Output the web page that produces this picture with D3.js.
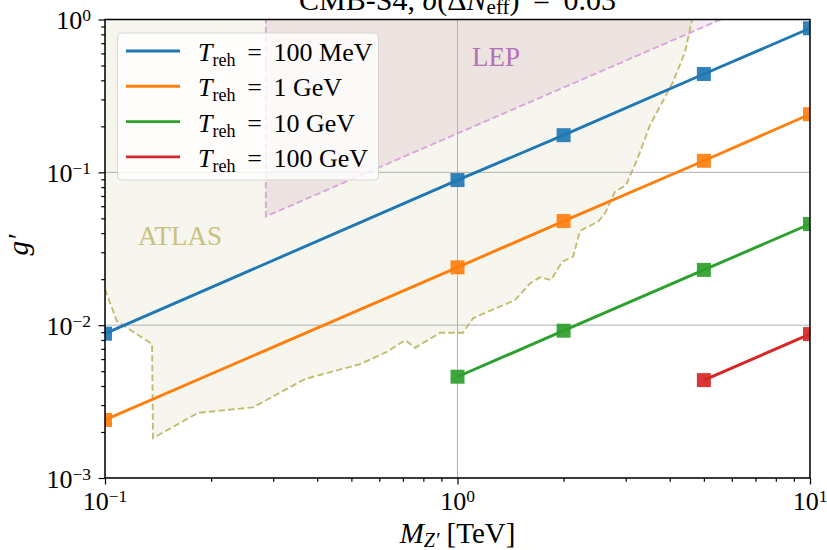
<!DOCTYPE html>
<html><head><meta charset="utf-8">
<script src="https://cdn.jsdelivr.net/npm/d3@7"></script>
<style>
body{margin:0;background:#fff}
svg{display:block}
text{font-family:"Liberation Serif","Times New Roman",serif;fill:#000}
</style>
</head><body>
<svg id="chart" width="827" height="550"></svg>
<script>
// ---------- data ----------
const seriesLabels = ["100 MeV", "1 GeV", "10 GeV", "100 GeV"];
const seriesColors = ["#1f77b4", "#ff7f0e", "#2ca02c", "#d62728"];
const mass100MeV = [0.1, 1, 2, 5, 10];
const g100MeV    = [0.0088, 0.089, 0.175, 0.44, 0.876];
const mass1GeV   = [0.1, 1, 2, 5, 10];
const g1GeV      = [0.0024, 0.0239, 0.048, 0.119, 0.24];
const mass10GeV  = [1, 2, 5, 10];
const g10GeV     = [0.0046, 0.0092, 0.023, 0.0459];
const mass100GeV = [5, 10];
const g100GeV    = [0.00437, 0.00874];

const atlasMass = [0.1, 0.108, 0.136, 0.1368, 0.1836, 0.263, 0.369, 0.529, 0.631, 0.71, 0.758, 0.892, 1.036,
  1.107, 1.158, 1.456, 1.606, 1.714, 1.842, 1.98, 2.127, 2.226, 2.504, 2.62, 2.798, 3.006, 3.229, 3.517,
  4.087, 4.42, 4.63, 4.7];
const atlasG = [0.01722, 0.01063, 0.00752, 0.001824, 0.00267, 0.0029, 0.00444, 0.00556, 0.0067, 0.00799,
  0.00711, 0.00892, 0.00892, 0.01108, 0.01164, 0.0146, 0.01877, 0.02055, 0.01973, 0.026, 0.02803, 0.04147,
  0.04749, 0.0539, 0.0746, 0.0826, 0.1203, 0.204, 0.39, 0.6127, 1.0, 1.2];

const lepMass = [0.286, 0.286, 6.7];
const lepG    = [1.2, 0.0515, 1.2];

const xMajor = [0.1, 1, 10];
const xMajorExp = ["−1", "0", "1"];
const yMajor = [0.001, 0.01, 0.1, 1];
const yMajorExp = ["−3", "−2", "−1", "0"];
const titleParts = ["CMB-S4, ", "σ", "(Δ", "N", "eff", ") = 0.03"];

// ---------- layout ----------
const svg = d3.select("#chart");
const L = 105, R = 810, T = 19.5, B = 478;
const x = d3.scaleLog().domain([0.1, 10]).range([L, R]);
const y = d3.scaleLog().domain([0.001, 1]).range([B, T]);

svg.append("defs").append("clipPath").attr("id", "clip")
  .append("rect").attr("x", L).attr("y", T).attr("width", R - L).attr("height", B - T);

const plot = svg.append("g").attr("clip-path", "url(#clip)");

// ATLAS region
const atlasPts = atlasMass.map((m, i) => [m, atlasG[i]]);
const polyAtlas = [[0.1, 1.2], ...atlasPts];
plot.append("path")
  .attr("d", d3.line().x(d => x(d[0])).y(d => y(d[1]))(polyAtlas) + "Z")
  .attr("fill", "#f7f6ee").attr("stroke", "none");

// LEP region
const lepPts = lepMass.map((m, i) => [m, lepG[i]]);
plot.append("path")
  .attr("d", d3.line().x(d => x(d[0])).y(d => y(d[1]))(lepPts) + "Z")
  .attr("fill", "#a04080").attr("fill-opacity", 0.1).attr("stroke", "none");

// ATLAS edge
plot.append("path")
  .attr("d", d3.line().x(d => x(d[0])).y(d => y(d[1]))(atlasPts))
  .attr("fill", "none").attr("stroke", "#c3bc6e").attr("stroke-width", 1.9)
  .attr("stroke-dasharray", "6.5,3.2");
// LEP edge
plot.append("path")
  .attr("d", d3.line().x(d => x(d[0])).y(d => y(d[1]))(lepPts))
  .attr("fill", "none").attr("stroke", "#d9a6d9").attr("stroke-width", 1.9)
  .attr("stroke-dasharray", "6.5,3.2");

// grid
const grid = plot.append("g");
grid.selectAll("line.gx").data(xMajor).join("line")
  .attr("x1", d => x(d)).attr("x2", d => x(d)).attr("y1", T).attr("y2", B)
  .attr("stroke", "#b0b0b0").attr("stroke-width", 1);
grid.selectAll("line.gy").data(yMajor).join("line")
  .attr("y1", d => y(d)).attr("y2", d => y(d)).attr("x1", L).attr("x2", R)
  .attr("stroke", "#b0b0b0").attr("stroke-width", 1);

// series
const series = [
  {m: mass100MeV, g: g100MeV},
  {m: mass1GeV, g: g1GeV},
  {m: mass10GeV, g: g10GeV},
  {m: mass100GeV, g: g100GeV}
];
series.forEach((s, k) => {
  const pts = s.m.map((m, i) => [m, s.g[i]]);
  plot.append("path")
    .attr("d", d3.line().x(d => x(d[0])).y(d => y(d[1]))(pts))
    .attr("fill", "none").attr("stroke", seriesColors[k]).attr("stroke-width", 2.9);
  const ms = 14;
  plot.selectAll(null).data(pts).join("rect")
    .attr("x", d => x(d[0]) - ms / 2).attr("y", d => y(d[1]) - ms / 2)
    .attr("width", ms).attr("height", ms)
    .attr("fill", seriesColors[k]).attr("fill-opacity", 0.92);
});

// region labels
svg.append("text").attr("x", x(0.124)).attr("y", y(0.0334)).attr("font-size", 27)
  .style("fill", "#c9c17d").text("ATLAS");
svg.append("text").attr("x", x(1.099)).attr("y", y(0.499)).attr("font-size", 27)
  .style("fill", "#b670b6").text("LEP");

// axes
const xAxisMajor = d3.axisBottom(x).tickValues(xMajor).tickSize(6.5).tickFormat(() => "");
const xMinorVals = [];
[0.1, 1].forEach(d => { for (let k = 2; k <= 9; k++) xMinorVals.push(d * k); });
const xAxisMinor = d3.axisBottom(x).tickValues(xMinorVals).tickSize(3.8).tickFormat(() => "");
const yAxisMajor = d3.axisLeft(y).tickValues(yMajor).tickSize(6.5).tickFormat(() => "");
const yMinorVals = [];
[0.001, 0.01, 0.1].forEach(d => { for (let k = 2; k <= 9; k++) yMinorVals.push(d * k); });
const yAxisMinor = d3.axisLeft(y).tickValues(yMinorVals).tickSize(3.8).tickFormat(() => "");

function styleAxis(g) {
  g.select(".domain").remove();
  g.selectAll("line").attr("stroke", "#000").attr("stroke-width", 1.2);
}
svg.append("g").attr("transform", `translate(0,${B})`).call(xAxisMajor).call(styleAxis);
svg.append("g").attr("transform", `translate(0,${B})`).call(xAxisMinor).call(styleAxis);
svg.append("g").attr("transform", `translate(${L},0)`).call(yAxisMajor).call(styleAxis);
svg.append("g").attr("transform", `translate(${L},0)`).call(yAxisMinor).call(styleAxis);

// frame
svg.append("rect").attr("x", L).attr("y", T).attr("width", R - L).attr("height", B - T)
  .attr("fill", "none").attr("stroke", "#000").attr("stroke-width", 1.5);

// tick labels
xMajor.forEach((d, i) => {
  const t = svg.append("text").attr("x", x(d)).attr("y", 510).attr("text-anchor", "middle")
    .attr("font-size", 26);
  t.append("tspan").text("10");
  t.append("tspan").attr("font-size", 17.5).attr("dy", -8).text(xMajorExp[i]);
});
yMajor.forEach((d, i) => {
  const t = svg.append("text").attr("x", 91).attr("y", y(d) + 9.5).attr("text-anchor", "end")
    .attr("font-size", 26);
  t.append("tspan").text("10");
  t.append("tspan").attr("font-size", 17.5).attr("dy", -8).text(yMajorExp[i]);
});

// axis labels
const xl = svg.append("text").attr("x", (L + R) / 2).attr("y", 543).attr("text-anchor", "middle")
  .attr("font-size", 29);
xl.append("tspan").attr("font-style", "italic").text("M");
xl.append("tspan").attr("font-style", "italic").attr("font-size", 20).attr("dy", 4).text("Z′");
xl.append("tspan").attr("dy", -4).text(" [TeV]");

svg.append("text").attr("transform", `translate(28,245) rotate(-90)`).attr("text-anchor", "middle")
  .attr("font-size", 29).attr("font-style", "italic").text("g′");

// title
const tt = svg.append("text").attr("x", (L + R) / 2).attr("y", 10).attr("text-anchor", "middle")
  .attr("font-size", 30);
tt.append("tspan").text(titleParts[0]);
tt.append("tspan").attr("font-style", "italic").text(titleParts[1]);
tt.append("tspan").text(titleParts[2]);
tt.append("tspan").attr("font-style", "italic").text(titleParts[3]);
tt.append("tspan").attr("font-size", 21).attr("dy", 4).text(titleParts[4]);
tt.append("tspan").attr("dy", -4).text(titleParts[5].replace(" = ", "\u2009 = \u2009"));

// legend
const lg = svg.append("g");
lg.append("rect").attr("x", 117.5).attr("y", 33).attr("width", 261).attr("height", 147).attr("rx", 4)
  .attr("fill", "#fff").attr("fill-opacity", 0.8).attr("stroke", "#d6d6d6").attr("stroke-width", 1);
seriesLabels.forEach((lab, i) => {
  const cy = 51 + i * 35.3;
  lg.append("line").attr("x1", 126).attr("x2", 180).attr("y1", cy).attr("y2", cy)
    .attr("stroke", seriesColors[i]).attr("stroke-width", 2.9);
  const t = lg.append("text").attr("x", 198).attr("y", cy + 10).attr("font-size", 26);
  t.append("tspan").attr("font-style", "italic").text("T");
  t.append("tspan").attr("font-size", 18).attr("dy", 5).text("reh");
  t.append("tspan").attr("dy", -5).text("\u2009 = \u2009" + lab);
});
</script>
</body></html>
